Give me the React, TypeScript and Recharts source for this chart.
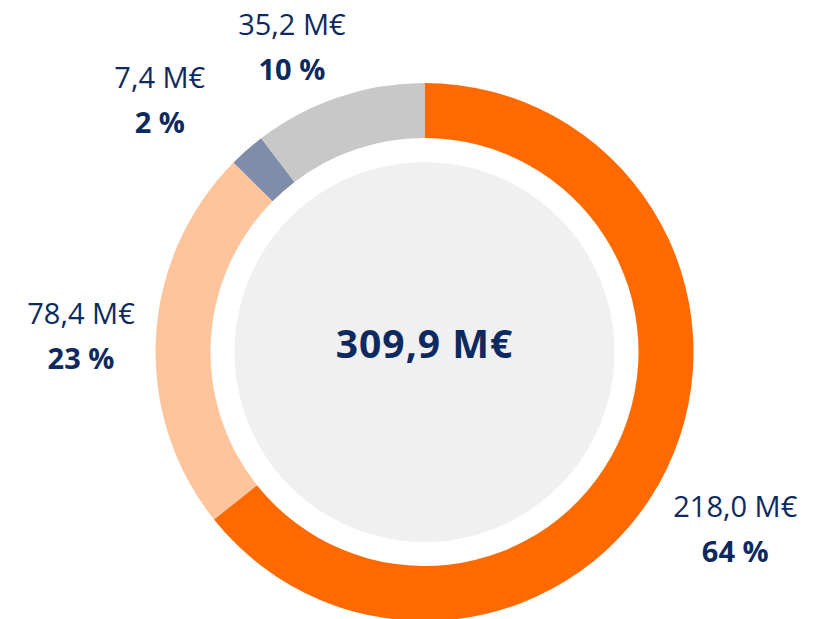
import { PieChart, Pie, Cell } from "recharts";

const categories = ["Segment A", "Segment B", "Segment C", "Segment D"];
const values = [218.0, 78.4, 7.4, 35.2];
const colors = ["#ff6a00", "#fec49b", "#7f8dab", "#c8c8c8"];
const totalLabel = "309,9 M€";

// small hand tweaks so the outside labels sit where the original put them
const labelNudge = [
  [0, 26],
  [1, 2],
  [-37, 6],
  [-22, 21],
];

const NAVY = "#0c2a5f";
const FONT = "'Open Sans', sans-serif";

const total = values.reduce((a, b) => a + b, 0);
const data = categories.map((name, i) => ({ name, value: values[i] }));

const fmtValue = (v: number) => v.toFixed(1).replace(".", ",") + " M€";
const fmtPct = (v: number) => Math.round((v / total) * 100) + " %";

const RAD = Math.PI / 180;

const renderLabel = (props: any) => {
  const { cx, cy, midAngle, index, value } = props;
  const r = 345;
  const x = cx + r * Math.cos(-midAngle * RAD) + labelNudge[index][0];
  const y = cy + r * Math.sin(-midAngle * RAD) + labelNudge[index][1];
  return (
    <g key={"lbl" + index}>
      <text
        x={x}
        y={y - 11}
        textAnchor="middle"
        fill={NAVY}
        fontSize={29}
        fontFamily={FONT}
      >
        {fmtValue(value)}
      </text>
      <text
        x={x}
        y={y + 34}
        textAnchor="middle"
        fill={NAVY}
        fontSize={29}
        fontWeight={700}
        fontFamily={FONT}
      >
        {fmtPct(value)}
      </text>
    </g>
  );
};

const renderTotal = (props: any) => (
  <text
    key="total"
    x={props.cx}
    y={props.cy + 6}
    textAnchor="middle"
    fill={NAVY}
    fontSize={39}
    fontWeight={700}
    letterSpacing={1}
    fontFamily={FONT}
  >
    {totalLabel}
  </text>
);

export default function App() {
  return (
    <div style={{ position: "absolute", left: 0, top: 0 }}>
      <PieChart
        width={818}
        height={619}
        margin={{ top: 0, right: 0, bottom: 0, left: 0 }}
      >
        <Pie
          data={[{ name: "total", value: 1 }]}
          dataKey="value"
          cx={424.5}
          cy={352}
          innerRadius={0}
          outerRadius={190}
          fill="#f0f0f0"
          stroke="none"
          label={renderTotal}
          labelLine={false}
          isAnimationActive={false}
        />
        <Pie
          data={data}
          dataKey="value"
          cx={424.5}
          cy={352}
          innerRadius={214}
          outerRadius={269}
          startAngle={90}
          endAngle={-270}
          stroke="none"
          label={renderLabel}
          labelLine={false}
          isAnimationActive={false}
        >
          {data.map((d, i) => (
            <Cell key={d.name} fill={colors[i]} />
          ))}
        </Pie>
      </PieChart>
    </div>
  );
}
